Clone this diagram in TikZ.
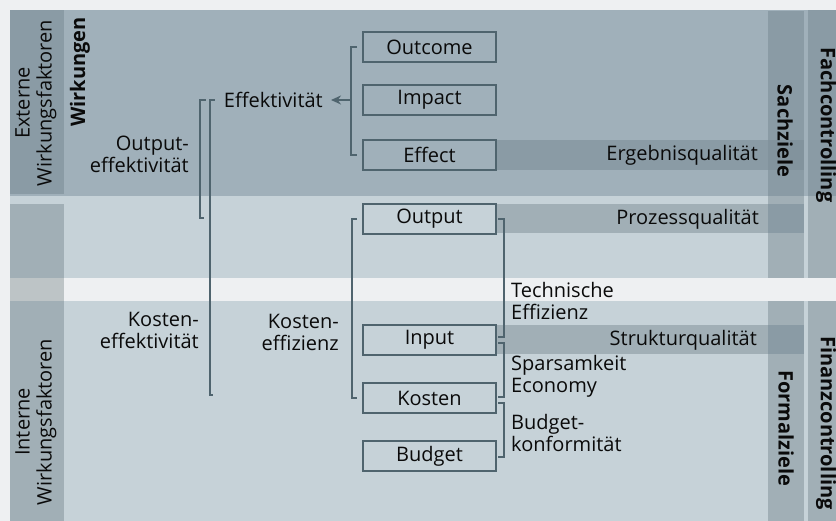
\documentclass[tikz,border=0pt]{standalone}
\usepackage{fontspec}
\setmainfont{Open Sans}
\usetikzlibrary{arrows.meta}
\definecolor{pagebg}{HTML}{EEF0F2}
\definecolor{upper}{HTML}{A0B0BA}
\definecolor{upcol}{HTML}{8A9BA5}
\definecolor{lower}{HTML}{C6D2D8}
\definecolor{lowcol}{HTML}{A1AFB6}
\definecolor{gapcol}{HTML}{BDC4C6}
\definecolor{overlap}{HTML}{82939D}
\definecolor{linec}{HTML}{4F646E}
\definecolor{txt}{HTML}{0A0A0A}

\begin{document}
\begin{tikzpicture}[x=1pt,y=-1pt,
  font=\fontsize{20}{22}\selectfont,
  every node/.style={text=txt},
  factor/.style={draw=linec,line width=2pt,minimum width=133pt,minimum height=30pt,inner sep=0pt},
  brace/.style={draw=linec,line width=2pt},
  lbl/.style={inner sep=0pt,align=left,anchor=west},
  rlbl/.style={inner sep=0pt,align=right,anchor=east},
  side/.style={inner sep=0pt,align=center,rotate=90},
  goal/.style={inner sep=0pt,font=\fontsize{20}{22}\selectfont\bfseries,rotate=-90}]
\useasboundingbox (0,0) rectangle (836,521);
% background fields
\fill[pagebg] (0,0) rectangle (836,521);
\fill[upper] (10,10) rectangle (836,196);
\fill[lower] (10,196) rectangle (836,521);
\fill[pagebg] (64,278) rectangle (836,301);
% left column
\fill[upcol] (10,10) rectangle (64,194);
\fill[lowcol] (10,204) rectangle (64,278);
\fill[gapcol] (10,278) rectangle (64,301);
\fill[lowcol] (10,301) rectangle (64,521);
% right columns
\fill[upcol] (768,11) rectangle (804,196);
\fill[lowcol] (768,196) rectangle (804,278);
\fill[lowcol] (768,301) rectangle (804,521);
\fill[upcol] (808,10) rectangle (836,196);
\fill[lowcol] (808,196) rectangle (836,278);
\fill[lowcol] (808,301) rectangle (836,521);
% quality bands
\fill[upcol] (496,140) rectangle (804,170);
\fill[overlap] (768,140) rectangle (804,170);
\fill[lowcol] (496,204) rectangle (804,233);
\fill[upcol] (768,204) rectangle (804,233);
\fill[lowcol] (496,325) rectangle (804,354);
\fill[upcol] (768,325) rectangle (804,354);

% factor boxes
\node[factor] (outcome) at (429.5,47) {Outcome};
\node[factor] (impact) at (429.5,100) {Impact};
\node[factor] (effect) at (429.5,155) {Effect};
\node[factor] (output) at (429.5,219) {Output};
\node[factor] (input) at (429.5,340) {Input};
\node[factor] (kosten) at (429.5,398) {Kosten};
\node[factor] (budget) at (429.5,456) {Budget};

% labels
\node[rlbl] (eff) at (323,100) {Effektivität};
\node[rlbl] (outeff) at (189,154) {Output-\\effektivität};
\node[rlbl] (koseff) at (199,330) {Kosten-\\effektivität};
\node[rlbl] (kosefz) at (339,332) {Kosten-\\effizienz};
\node[lbl] (techn) at (511,301) {Technische\\Effizienz};
\node[lbl] (spars) at (511,376) {Sparsamkeit\\Economy};
\node[lbl] (budk) at (511,433) {Budget-\\konformität};
\node[rlbl] (ergeb) at (758,155) {Ergebnisqualität};
\node[rlbl] (proz) at (759,219) {Prozessqualität};
\node[rlbl] (struk) at (757,340) {Strukturqualität};

% side labels
\node[side] (extern) at (36,103) {Externe\\Wirkungsfaktoren};
\node[side] (intern) at (36,422) {Interne\\Wirkungsfaktoren};
\node[side,font=\fontsize{20}{22}\selectfont\bfseries] (wirk) at (80,72) {Wirkungen};
\node[goal] (sach) at (785,131) {Sachziele};
\node[goal] (formal) at (786,428) {Formalziele};
\node[goal] (fach) at (826,125) {Fachcontrolling};
\node[goal] (finanz) at (826,423) {Finanzcontrolling};

% brackets
\draw[brace] ([xshift=-5pt]outcome.west) -- ++(-6,0) |- ([xshift=-5pt]effect.west);
\draw[brace,-{Stealth[length=10pt,width=9pt]},shorten >=8pt] ([xshift=-11pt]impact.west) -- (eff.east);
\draw[brace] ([xshift=-5pt]output.west) -- ++(-5,0) |- ([xshift=-5pt]kosten.west);
\draw[brace] ([xshift=-18pt]eff.west) -- ++(-6,0) |- ([xshift=-158pt,yshift=1pt]output.west);
\draw[brace] ([xshift=-9pt]eff.west) -- ++(-5,0) |- ([xshift=-149pt,yshift=3pt]kosten.west);
\draw[brace] ([xshift=1pt]output.east) -- ++(6,0) |- ([shift={(1pt,3pt)}]input.east);
\draw[brace] ([shift={(1pt,-3pt)}]input.east) -- ++(6,0) |- ([shift={(1pt,1pt)}]kosten.east);
\draw[brace] ([shift={(1pt,-5pt)}]kosten.east) -- ++(6,0) |- ([shift={(1pt,-1pt)}]budget.east);
\end{tikzpicture}
\end{document}
